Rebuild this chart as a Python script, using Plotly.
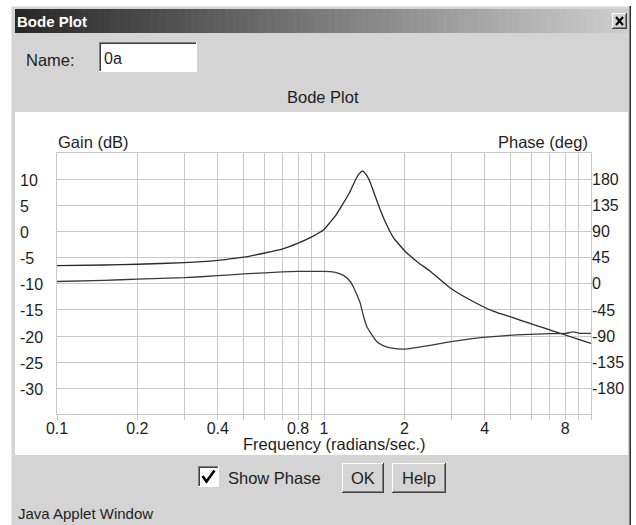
import plotly.graph_objects as go

W, H = 636, 525

# ---------------- data ----------------
freq_gain = [0.1, 0.15, 0.2, 0.3, 0.4, 0.5, 0.6, 0.7, 0.8, 0.9, 1.0, 1.055, 1.1,
             1.183, 1.25, 1.309, 1.35, 1.394, 1.44, 1.49, 1.55, 1.624, 1.72, 1.822,
             2.016, 2.25, 2.5, 2.97, 3.53, 4.32, 5.1, 5.76, 6.7, 7.68, 8.8, 10.0]
gain_db = [-6.5, -6.4, -6.25, -5.95, -5.5, -4.9, -4.1, -3.3, -2.2, -1.0, 0.4, 1.8, 2.9,
           5.5, 7.6, 9.8, 11.0, 11.6, 10.9, 9.4, 7.0, 4.2, 1.2, -1.2,
           -3.8, -5.9, -7.6, -10.8, -13.1, -15.3, -16.5, -17.4, -18.5, -19.5, -20.5, -21.4]

freq_phase = [0.1, 0.15, 0.2, 0.3, 0.4, 0.5, 0.6, 0.7, 0.8, 1.0, 1.055, 1.12, 1.183,
              1.254, 1.29, 1.328, 1.367, 1.406, 1.448, 1.512, 1.579, 1.671, 1.822,
              1.986, 2.5, 2.95, 3.53, 3.94, 4.95, 5.56, 7.0, 8.0, 8.57, 9.2, 10.0]
phase_deg = [4, 6, 8, 10.5, 14, 17, 19, 20.5, 21.4, 21.5, 21, 19, 14.5,
             4, -6, -19, -33.5, -56, -74, -88, -100, -107, -111.5,
             -112.5, -106, -100, -95, -92.5, -89, -87.5, -86, -85.5, -83, -85.5, -85.5]

x_grid = [0.1, 0.2, 0.3, 0.4, 0.5, 0.6, 0.7, 0.8, 0.9,
          1, 2, 3, 4, 5, 6, 7, 8, 9, 10]
x_labels = {0.1: "0.1", 0.2: "0.2", 0.4: "0.4", 0.8: "0.8", 1: "1", 2: "2", 4: "4", 8: "8"}
gain_ticks = [10, 5, 0, -5, -10, -15, -20, -25, -30]
phase_ticks = [180, 135, 90, 45, 0, -45, -90, -135, -180]

FONT = "Liberation Sans, Arial, sans-serif"
TXT = "#1e1e1e"
GRID = "#c8c8c8"
FACE = "#d4d4d4"

# ---------------- helpers (pixel -> paper) ----------------
def px(x):
    return x / W

def py(y):
    return 1 - y / H

shapes = []
annotations = []

def rect(x0, y0, x1, y1, fill, line=None, lw=1):
    shapes.append(dict(type="rect", xref="paper", yref="paper",
                       x0=px(x0), x1=px(x1), y0=py(y1), y1=py(y0),
                       fillcolor=fill, layer="below",
                       line=dict(color=line or fill, width=lw if line else 0)))

def hline(x0, x1, y, color, lw=1):
    shapes.append(dict(type="line", xref="paper", yref="paper",
                       x0=px(x0), x1=px(x1), y0=py(y), y1=py(y),
                       line=dict(color=color, width=lw), layer="below"))

def vline(x, y0, y1, color, lw=1):
    shapes.append(dict(type="line", xref="paper", yref="paper",
                       x0=px(x), x1=px(x), y0=py(y0), y1=py(y1),
                       line=dict(color=color, width=lw), layer="below"))

def bevel(x0, y0, x1, y1, fill, raised=True):
    rect(x0, y0, x1, y1, fill)
    if raised:
        hline(x0, x1, y0 + 0.5, "#ffffff"); vline(x0 + 0.5, y0, y1, "#ffffff")
        hline(x0, x1, y1 - 0.5, "#404040"); vline(x1 - 0.5, y0, y1, "#404040")
        hline(x0 + 1, x1 - 1, y1 - 1.5, "#808080"); vline(x1 - 1.5, y0 + 1, y1 - 1, "#808080")
    else:
        hline(x0, x1, y0 + 0.5, "#808080"); vline(x0 + 0.5, y0, y1, "#808080")
        hline(x0 + 1, x1 - 1, y0 + 1.5, "#404040"); vline(x0 + 1.5, y0 + 1, y1 - 1, "#404040")
        hline(x0, x1, y1 - 0.5, "#ffffff"); vline(x1 - 0.5, y0, y1, "#ffffff")

def text(x, y, s, size=16, xanchor="left", color=TXT, bold=False):
    annotations.append(dict(xref="paper", yref="paper", x=px(x), y=py(y),
                            text=f"<b>{s}</b>" if bold else s, showarrow=False,
                            xanchor=xanchor, yanchor="middle", borderpad=0,
                            font=dict(family=FONT, size=size, color=color)))

# ---------------- window chrome ----------------
rect(11, 6, 631, 525, FACE)
hline(11, 631, 6.5, "#e8e8e8"); vline(11.5, 6, 525, "#e8e8e8")
vline(629.5, 6, 525, "#808080"); vline(630.5, 6, 525, "#303030")

# title bar gradient
n = 90
x0t, x1t = 15, 628
c0, c1 = (40, 40, 40), (206, 206, 206)
for i in range(n):
    t = i / (n - 1)
    c = tuple(int(c0[k] + (c1[k] - c0[k]) * t) for k in range(3))
    xa = x0t + (x1t - x0t) * i / n
    xb = x0t + (x1t - x0t) * (i + 1) / n + 0.6
    rect(xa, 9, xb, 33, "rgb(%d,%d,%d)" % c)
text(16, 21, "Bode Plot", size=15, color="#ffffff", bold=True)

# close button
bevel(612, 13, 627, 29, FACE, raised=True)
for a, b in [((616, 17), (623, 25)), ((623, 17), (616, 25))]:
    shapes.append(dict(type="line", xref="paper", yref="paper",
                       x0=px(a[0]), y0=py(a[1]), x1=px(b[0]), y1=py(b[1]),
                       line=dict(color="#000000", width=2)))

# name field
text(25, 60, "Name:", size=16.5)
bevel(99, 42, 197, 72, "#ffffff", raised=False)
text(103, 59, "0a", size=16)

text(323, 97, "Bode Plot", size=16.5, xanchor="center")

# white plot panel
rect(15, 112, 628, 455, "#ffffff")

# bottom controls
bevel(198, 466, 219, 487, "#ffffff", raised=False)
shapes.append(dict(type="path", xref="paper", yref="paper",
                   path="M %f,%f L %f,%f L %f,%f" % (px(202.5), py(476), px(206.5), py(481.5),
                                                     px(214.5), py(470.5)),
                   line=dict(color="#000000", width=2.6)))
text(227, 478, "Show Phase", size=16.5)
bevel(342, 463, 384, 493, FACE, raised=True)
text(363, 478, "OK", size=16.5, xanchor="center")
bevel(392, 463, 446, 493, FACE, raised=True)
text(419, 478, "Help", size=16.5, xanchor="center")
text(17, 513, "Java Applet Window", size=15)

# axis titles and left tick labels
text(57, 142, "Gain (dB)", size=16.5)
text(589, 142, "Phase (deg)", size=16.5, xanchor="right")
text(334, 444, "Frequency (radians/sec.)", size=16.5, xanchor="center")
for v in gain_ticks:
    annotations.append(dict(xref="paper", yref="y", x=px(19), y=v, text=str(v),
                            showarrow=False, xanchor="left", yanchor="middle", yshift=-1,
                            borderpad=0,
                            font=dict(family=FONT, size=16, color=TXT)))

# ---------------- figure ----------------
fig = go.Figure()
fig.add_trace(go.Scatter(x=freq_gain, y=gain_db, mode="lines", name="Gain",
                         line=dict(color="#2a2a2a", width=1.3, shape="spline", smoothing=0.4),
                         yaxis="y"))
fig.add_trace(go.Scatter(x=freq_phase, y=phase_deg, mode="lines", name="Phase",
                         line=dict(color="#3a3a3a", width=1.3, shape="spline", smoothing=0.4),
                         yaxis="y2"))

x_dom = [57 / W, 591 / W]
y_dom = [1 - 414.3 / H, 1 - 153.3 / H]

fig.update_layout(
    width=W, height=H, autosize=False,
    margin=dict(l=0, r=0, t=0, b=0, pad=0, autoexpand=False),
    paper_bgcolor="#ffffff", plot_bgcolor="rgba(0,0,0,0)",
    showlegend=False,
    shapes=shapes, annotations=annotations,
    xaxis=dict(type="log", range=[-1, 1], domain=x_dom,
               tickvals=x_grid, ticktext=[x_labels.get(v, "") for v in x_grid],
               showgrid=True, gridcolor=GRID, gridwidth=1,
               ticks="outside", ticklen=5, tickcolor=GRID,
               ticklabelstandoff=-6, automargin=False,
               showline=True, mirror=True, linecolor=GRID, linewidth=1,
               zeroline=False, fixedrange=True,
               tickfont=dict(family=FONT, size=16, color=TXT)),
    yaxis=dict(range=[-35, 15], domain=y_dom, tickvals=gain_ticks,
               showticklabels=False, showgrid=True, gridcolor=GRID, gridwidth=1,
               showline=True, mirror=True, linecolor=GRID, linewidth=1,
               zeroline=False, ticks="", fixedrange=True, automargin=False),
    yaxis2=dict(range=[-225, 225], overlaying="y", side="right", anchor="x",
                tickvals=phase_ticks, ticktext=[str(v) for v in phase_ticks],
                showgrid=False, zeroline=False, ticks="", showline=False,
                fixedrange=True, automargin=False,
                tickfont=dict(family=FONT, size=16, color=TXT)),
)

fig.write_html("out.html", config={"displayModeBar": False},
               post_script="document.body.style.margin='0';"
                           "document.body.style.overflow='hidden';")
